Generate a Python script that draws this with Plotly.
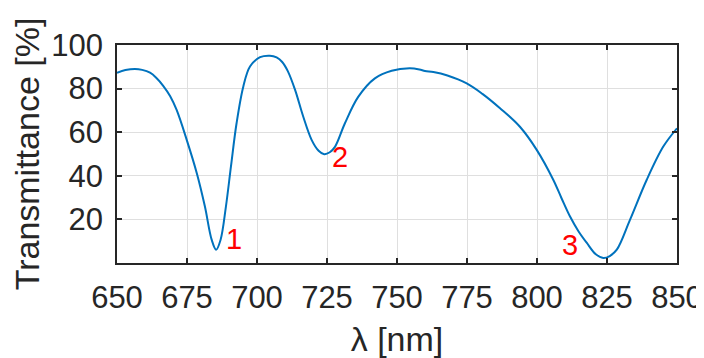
import plotly.graph_objects as go

wavelength = [650, 653, 656.4, 659, 661.8, 664, 666.5, 669, 671.3, 674.9, 678.5, 681.4, 683.8, 685.4,
              687.0, 688.9, 690.7, 692.7, 695.1, 697.5, 701.1, 704.6, 707, 709, 711, 713.6,
              716.5, 719.5, 722, 724.0, 726, 727.9, 731.4, 736.2, 742.1, 748.1, 754.5, 758, 760,
              763, 768, 774.9, 780.5, 786.8, 793.9, 799.9, 805.8, 808.8, 811.8, 814.8, 817.8, 821, 823.7,
              826, 828.5, 833.2, 839.2, 845.1, 850]
transmittance = [87.3, 88.5, 89.0, 88.6, 87.3, 85.0, 81.3, 76.5, 70.2, 56.5, 41.2, 25.9, 10.7, 6.1,
                 10.7, 25.9, 44.3, 64.1, 80.9, 90.1, 94.4, 95.1, 94.3, 92.2, 88.0, 79.4,
                 67.2, 56.5, 51.5, 49.9, 50.8, 53.4, 64.1, 76.3, 84.7, 88.2, 89.3, 88.8, 88.1,
                 87.6, 86.0, 82.4, 77.6, 71.0, 62.5, 51.9, 38.2, 29.6, 21.3, 14.6, 9.2, 4.0, 2.3,
                 3.2, 6.1, 19.8, 38.2, 53.4, 61.8]

label_text = ["1", "2", "3"]
label_x = [691.8, 729.8, 811.8]
label_y = [11.1, 48.7, 8.4]

x_ticks = [650, 675, 700, 725, 750, 775, 800, 825, 850]
y_ticks = [20, 40, 60, 80, 100]

FONT = "Liberation Sans, Arial, Helvetica, sans-serif"
DARK = "#262626"
GRID = "#dfdfdf"

fig = go.Figure()
fig.add_trace(go.Scatter(
    x=wavelength, y=transmittance, mode="lines",
    line=dict(color="#0072BD", width=2, shape="spline", smoothing=1.0),
    showlegend=False, hoverinfo="skip",
))

for t, x, y in zip(label_text, label_x, label_y):
    fig.add_annotation(x=x, y=y, xref="x", yref="y", text=t, showarrow=False,
                       font=dict(family=FONT, size=29, color="#ff0000"))

axis_common = dict(
    showline=True, linecolor=DARK, linewidth=1.5, mirror="ticks",
    ticks="inside", ticklen=5, tickwidth=1.5, tickcolor=DARK,
    showgrid=True, gridcolor=GRID, gridwidth=1, zeroline=False,
    automargin=False,
    tickfont=dict(family=FONT, size=31, color=DARK),
)

# the page body adds an 8px offset, so the figure is sized to fit the window
fig.update_layout(
    width=696, height=350,
    margin=dict(l=109, r=27, t=37, b=95),
    paper_bgcolor="white", plot_bgcolor="white",
    font=dict(family=FONT, color=DARK),
    xaxis=dict(range=[650, 850], tickvals=x_ticks, ticktext=[str(v) for v in x_ticks],
               title=dict(text="λ [nm]", font=dict(family=FONT, size=34, color=DARK), standoff=24),
               ticklabelstandoff=6,
               **axis_common),
    yaxis=dict(range=[0, 100], tickvals=y_ticks, ticktext=[str(v) for v in y_ticks],
               title=dict(text="Transmittance [%]", font=dict(family=FONT, size=34, color=DARK), standoff=6),
               ticklabelstandoff=6,
               **axis_common),
)

fig.write_html("out.html")
